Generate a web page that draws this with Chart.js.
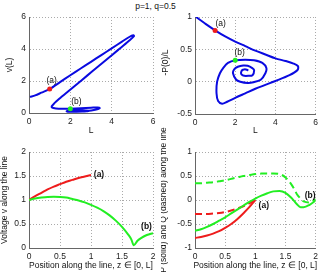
<!DOCTYPE html>
<html lang="en">
<head>
    <meta charset="UTF-8">
    <title>p=1, q=0.5</title>
    <script src="https://cdn.jsdelivr.net/npm/chart.js"></script>
    <style>
        body { margin: 0; background: #fff; }
        #fig {
            position: relative;
            width: 322px;
            height: 276px;
            overflow: hidden;
            font-family: "Liberation Sans", Arial, sans-serif;
        }
        #fig canvas { position: absolute; }
        #titulo {
            position: absolute;
            left: 0;
            top: 1px;
            width: 311px;
            text-align: center;
            font-size: 8.5px;
            color: #111;
        }
    </style>
</head>
<body>
    <div id="fig">
        <div id="titulo">p=1, q=0.5</div>
        <canvas id="c1" width="161" height="138" style="left:0;top:0"></canvas>
        <canvas id="c2" width="161" height="138" style="left:161px;top:0"></canvas>
        <canvas id="c3" width="161" height="138" style="left:0;top:138px"></canvas>
        <!-- taller canvas: the long y label spills above the panel -->
        <canvas id="c4" width="161" height="176" style="left:161px;top:100px"></canvas>
    </div>

    <script>
        // top left: v(L) traced as L grows
        const curvaL1 = [0.05, 0.3, 0.6, 1.0, 1.5, 2.0, 2.5, 3.0, 3.5, 4.0, 4.5, 4.85, 5.05, 5.08,
                         4.8, 4.3, 3.8, 3.3, 2.8, 2.3, 1.8, 1.45, 1.22, 1.1, 1.12, 1.3, 1.6, 1.97, 2.5,
                         3.0, 3.35, 3.42, 3.2, 2.8, 2.3, 1.9, 1.82, 2.1, 2.6, 2.9, 2.8, 2.4, 2.2, 2.35, 2.5];
        const curvaV  = [1.0, 1.1, 1.27, 1.5, 1.93, 2.36, 2.78, 3.2, 3.62, 4.04, 4.46, 4.75, 4.86, 4.8,
                         4.47, 3.93, 3.39, 2.86, 2.32, 1.78, 1.25, 0.87, 0.6, 0.42, 0.33, 0.28, 0.26, 0.27, 0.3,
                         0.33, 0.35, 0.3, 0.2, 0.12, 0.08, 0.08, 0.11, 0.15, 0.17, 0.15, 0.11, 0.1, 0.12, 0.14, 0.14];

        // top right: -P(0)/L traced as L grows
        const curvaL2 = [0.05, 0.5, 1.02, 1.5, 2.0, 2.5, 3.0, 3.5, 4.0, 4.5, 4.9, 5.12, 5.1, 4.7, 4.0,
                         3.5, 3.0, 2.5, 2.0, 1.6, 1.35, 1.15, 1.07, 1.1, 1.24, 1.4, 1.64, 2.02, 2.5, 2.94,
                         3.35, 3.55, 3.5, 3.27, 2.9, 2.62, 2.25, 2.05, 1.89, 1.95, 2.13, 2.4, 2.62, 2.85,
                         2.94, 2.86, 2.65, 2.45, 2.32, 2.29, 2.35, 2.45, 2.58, 2.65];
        const curvaP  = [1.0, 0.9, 0.79, 0.7, 0.62, 0.55, 0.48, 0.42, 0.36, 0.32, 0.28, 0.24, 0.18, 0.1, 0.01,
                         -0.05, -0.11, -0.18, -0.25, -0.31, -0.34, -0.3, -0.18, 0.0, 0.13, 0.21, 0.29, 0.33, 0.34, 0.33,
                         0.29, 0.21, 0.13, 0.03, -0.01, -0.02, 0.0, 0.03, 0.13, 0.19, 0.23, 0.25, 0.245, 0.21,
                         0.18, 0.1, 0.09, 0.09, 0.11, 0.14, 0.18, 0.19, 0.185, 0.17];

        // marked solutions (a) and (b)
        const marcaL = [1.0, 2.0];
        const marcaV = [1.5, 0.27];
        const marcaP = [0.79, 0.33];

        // bottom panels: profiles along the line
        const zA = [0, 0.1, 0.2, 0.3, 0.4, 0.5, 0.6, 0.7, 0.8, 0.9, 1.0];
        const vA = [1.0, 1.08, 1.15, 1.22, 1.28, 1.33, 1.38, 1.42, 1.46, 1.49, 1.52];
        const pA = [-0.79, -0.77, -0.74, -0.70, -0.65, -0.58, -0.50, -0.40, -0.28, -0.15, 0.0];
        const qA = [-0.29, -0.29, -0.29, -0.28, -0.27, -0.25, -0.22, -0.18, -0.13, -0.07, 0.0];

        const zB = [0, 0.1, 0.2, 0.3, 0.4, 0.5, 0.6, 0.7, 0.8, 0.9, 1.0, 1.1, 1.2, 1.3, 1.4, 1.5, 1.6, 1.65, 1.69, 1.75, 1.8, 1.9, 2.0];
        const vB = [1.0, 1.03, 1.05, 1.065, 1.07, 1.065, 1.05, 1.02, 0.99, 0.95, 0.9, 0.84, 0.77, 0.68, 0.57, 0.44, 0.28, 0.18, 0.055, 0.15, 0.2, 0.27, 0.31];
        const pB = [-0.64, -0.61, -0.56, -0.50, -0.43, -0.36, -0.28, -0.20, -0.12, -0.04, 0.03, 0.09, 0.14, 0.18, 0.19, 0.15, 0.04, -0.03, -0.09, -0.15, -0.15, -0.10, -0.01];
        const qB = [0.35, 0.35, 0.36, 0.37, 0.39, 0.41, 0.44, 0.47, 0.50, 0.52, 0.54, 0.55, 0.55, 0.55, 0.54, 0.47, 0.32, 0.22, 0.12, 0.03, -0.03, -0.05, 0.02];

        const FUENTE = '"Liberation Sans", Arial, sans-serif';
        const AZUL = '#0a0ae0';
        const ROJO = '#ee1c1c';
        const VERDE = '#22ee22';

        const puntos = (xs, ys) => xs.map((x, i) => ({ x: x, y: ys[i] }));

        function linea(xs, ys, color, extra) {
            return Object.assign({
                data: puntos(xs, ys),
                showLine: true,
                borderColor: color,
                borderWidth: 2,
                pointRadius: 0,
                fill: false
            }, extra || {});
        }

        function marca(i, ys, color) {
            return {
                data: [{ x: marcaL[i], y: ys[i] }],
                pointRadius: 2.5,
                pointBackgroundColor: color,
                pointBorderWidth: 0
            };
        }

        function eje(min, max, paso, tam, horizontal) {
            return {
                type: 'linear',
                min: min,
                max: max,
                ticks: {
                    stepSize: paso,
                    color: '#222',
                    font: { family: FUENTE, size: 8.5 },
                    padding: horizontal ? 4 : 3,
                    maxRotation: 0,
                    autoSkip: false,
                    callback: v => String(+v.toFixed(2))
                },
                grid: { color: '#aaa', lineWidth: 1, drawTicks: false },
                border: { display: true, color: '#666', width: 1, dash: [1, 2] },
                afterFit: s => { if (horizontal) s.height = tam; else s.width = tam; }
            };
        }

        // axis titles and (a)/(b) notes drawn over the chart
        function textos(cfg) {
            return {
                id: 'textos',
                afterDraw(chart) {
                    const { ctx, chartArea: a, scales } = chart;
                    ctx.save();
                    ctx.fillStyle = '#111';
                    ctx.textAlign = 'center';
                    ctx.textBaseline = 'middle';
                    ctx.font = '8.5px ' + FUENTE;
                    ctx.fillText(cfg.xTitulo, (a.left + a.right) / 2, a.bottom + cfg.xOff);
                    ctx.save();
                    ctx.translate(a.left - cfg.yOff, (a.top + a.bottom) / 2 + (cfg.yShift || 0));
                    ctx.rotate(-Math.PI / 2);
                    ctx.fillText(cfg.yTitulo, 0, 0);
                    ctx.restore();
                    ctx.font = (cfg.negrita ? 'bold ' : '') + '8.5px ' + FUENTE;
                    cfg.notas.forEach(n => {
                        const px = scales.x.getPixelForValue(n.x) + n.dx;
                        const py = scales.y.getPixelForValue(n.y) + n.dy;
                        ctx.fillText(n.texto, px, py);
                    });
                    ctx.restore();
                }
            };
        }

        function panel(id, datasets, ejes, pad, plug) {
            return new Chart(document.getElementById(id), {
                type: 'scatter',
                data: { datasets: datasets },
                options: {
                    responsive: false,
                    animation: false,
                    layout: { padding: pad },
                    plugins: { legend: { display: false }, tooltip: { enabled: false } },
                    scales: { x: ejes[0], y: ejes[1] }
                },
                plugins: [plug]
            });
        }

        panel('c1',
            [marca(0, marcaV, ROJO), marca(1, marcaV, VERDE),
             linea(curvaL1, curvaV, AZUL, { tension: 0.3 })],
            [eje(0, 6, 2, 25, true), eje(0, 6, 2, 29, false)],
            { left: 0, right: 8, top: 17, bottom: 0 },
            textos({
                xTitulo: 'L', xOff: 18, yTitulo: 'v(L)', yOff: 19,
                notas: [
                    { texto: '(a)', x: marcaL[0], y: marcaV[0], dx: 2, dy: -8.5 },
                    { texto: '(b)', x: marcaL[1], y: marcaV[1], dx: 6, dy: -7.5 }
                ]
            }));

        panel('c2',
            [marca(0, marcaP, ROJO), marca(1, marcaP, VERDE),
             linea(curvaL2, curvaP, AZUL, { tension: 0.3 })],
            [eje(0, 6, 2, 24, true), eje(-0.5, 1, 0.5, 34, false)],
            { left: 0, right: 4, top: 17, bottom: 0 },
            textos({
                xTitulo: 'L', xOff: 17, yTitulo: '-P(0)/L', yOff: 29, yShift: -3,
                notas: [
                    { texto: '(a)', x: marcaL[0], y: marcaP[0], dx: 5.5, dy: -7 },
                    { texto: '(b)', x: marcaL[1], y: marcaP[1], dx: 4.5, dy: -8 }
                ]
            }));

        panel('c3',
            [linea(zB, vB, VERDE, { cubicInterpolationMode: 'monotone' }),
             linea(zA, vA, ROJO, { cubicInterpolationMode: 'monotone' })],
            [eje(0, 2, 0.5, 28, true), eje(0, 2, 0.5, 29, false)],
            { left: 0, right: 8, top: 14, bottom: 0 },
            textos({
                xTitulo: 'Position along the line, z \u2208 [0, L]', xOff: 18,
                yTitulo: 'Voltage v along the line', yOff: 24, negrita: true,
                notas: [
                    { texto: '(a)', x: zA[zA.length - 1], y: vA[vA.length - 1], dx: 8, dy: 0 },
                    { texto: '(b)', x: zB[zB.length - 1], y: vB[vB.length - 1], dx: -6.5, dy: -6 }
                ]
            }));

        panel('c4',
            [linea(zB, pB, VERDE, { cubicInterpolationMode: 'monotone' }),
             linea(zB, qB, VERDE, { cubicInterpolationMode: 'monotone', borderDash: [7, 4] }),
             linea(zA, pA, ROJO, { cubicInterpolationMode: 'monotone' }),
             linea(zA, qA, ROJO, { cubicInterpolationMode: 'monotone', borderDash: [7, 4] })],
            [eje(0, 2, 0.5, 28, true), eje(-1, 1, 0.5, 34, false)],
            { left: 0, right: 4, top: 52, bottom: 0 },
            textos({
                xTitulo: 'Position along the line, z \u2208 [0, L]', xOff: 18,
                yTitulo: 'P (solid) and Q (dashed) along the line', yOff: 31, negrita: true,
                notas: [
                    { texto: '(a)', x: zA[zA.length - 1], y: pA[pA.length - 1], dx: 8.5, dy: 6 },
                    { texto: '(b)', x: zB[zB.length - 1], y: pB[pB.length - 1], dx: -5.5, dy: -5 }
                ]
            }));
    </script>
</body>
</html>
